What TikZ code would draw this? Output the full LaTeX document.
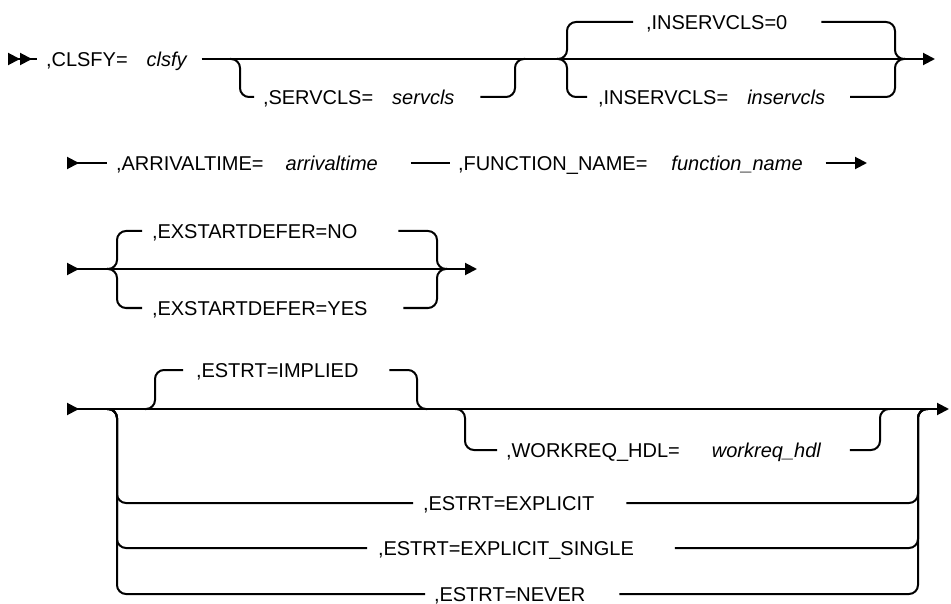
\documentclass[tikz,border=0pt]{standalone}
\usepackage{fontspec}
\setmainfont{Liberation Sans}
\usetikzlibrary{arrows.meta, positioning}

\tikzset{
  railtip/.tip={Triangle[length=12pt,width=12pt]},
  railstart/.tip={Triangle[reversed,length=12pt,width=12pt]}
}

\begin{document}
\begin{tikzpicture}[x=1pt, y=-1pt, line width=2pt,
    kw/.style={inner sep=0pt, text height=14.3pt, text depth=0pt,
               font=\fontsize{20}{24}\selectfont, anchor=west},
    var/.style={kw, font=\fontsize{20}{24}\selectfont\itshape},
    rail/.style={rounded corners=9pt}]
  \useasboundingbox (0,0) rectangle (951,604);

  % Row 1: CLSFY, SERVCLS, INSERVCLS
  \coordinate (start1) at (8,59);
  \coordinate (end1) at (935,59);
  \coordinate (servl) at (240,59);
  \coordinate (servr) at (515,59);
  \coordinate (insl) at (567,59);
  \coordinate (insr) at (895,59);
  \node[kw] (kwclsfy) at (45,59) {,CLSFY=};
  \node[var, right=17pt of kwclsfy] (varclsfy) {clsfy};
  \node[kw] (kwservcls) at (262,97) {,SERVCLS=};
  \node[var, right=17pt of kwservcls] (varservcls) {servcls};
  \node[kw] (kwinszero) at (645,22) {,INSERVCLS=0};
  \node[kw] (kwins) at (597,97) {,INSERVCLS=};
  \node[var, right=17pt of kwins] (varins) {inservcls};

  \draw[{Triangle[reversed,length=12pt,width=12pt] Triangle[reversed,length=12pt,width=12pt]}-]
    (start1) -- ([xshift=-8pt]kwclsfy.west);
  \draw[-railtip] ([xshift=14pt]varclsfy.east) -- (end1);
  \draw[rail] ([xshift=-10pt]servl) -| (servl |- kwservcls.west) -- ([xshift=-8pt]kwservcls.west);
  \draw[rail] ([xshift=25pt]varservcls.east) -| (servr) -- ([xshift=10pt]servr);
  \draw[rail] ([xshift=-10pt]insl) -| (insl |- kwinszero.west) -- ([xshift=-12pt]kwinszero.west);
  \draw[rail] ([xshift=33pt]kwinszero.east) -| (insr) -- ([xshift=10pt]insr);
  \draw[rail] ([xshift=-10pt]insl) -| (insl |- kwins.west) -- ([xshift=-10pt]kwins.west);
  \draw[rail] ([xshift=24pt]varins.east) -| (insr) -- ([xshift=10pt]insr);

  % Row 2: ARRIVALTIME, FUNCTION_NAME
  \coordinate (start2) at (67,163);
  \coordinate (end2) at (867,163);
  \node[kw] (kwarrival) at (115,163) {,ARRIVALTIME=};
  \node[var, right=20pt of kwarrival] (vararrival) {arrivaltime};
  \node[kw] (kwfunction) at (457,163) {,FUNCTION\_NAME=};
  \node[var, right=22pt of kwfunction] (varfunction) {function\_name};

  \draw[railstart-] (start2) -- ([xshift=-8pt]kwarrival.west);
  \draw ([xshift=32pt]vararrival.east) -- ([xshift=-7pt]kwfunction.west);
  \draw[-railtip] ([xshift=22pt]varfunction.east) -- (end2);

  % Row 3: EXSTARTDEFER
  \coordinate (start3) at (67,269);
  \coordinate (end3) at (477,269);
  \coordinate (deferl) at (117,269);
  \coordinate (deferr) at (437,269);
  \node[kw] (kwdeferno) at (151,231) {,EXSTARTDEFER=NO};
  \node[kw] (kwdeferyes) at (151,308) {,EXSTARTDEFER=YES};

  \draw[railstart-railtip] (start3) -- (end3);
  \draw[rail] ([xshift=-10pt]deferl) -| (deferl |- kwdeferno.west) -- ([xshift=-9pt]kwdeferno.west);
  \draw[rail] ([xshift=40pt]kwdeferno.east) -| (deferr) -- ([xshift=10pt]deferr);
  \draw[rail] ([xshift=-10pt]deferl) -| (deferl |- kwdeferyes.west) -- ([xshift=-9pt]kwdeferyes.west);
  \draw[rail] ([xshift=35pt]kwdeferyes.east) -| (deferr) -- ([xshift=10pt]deferr);

  % Row 4: ESTRT, WORKREQ_HDL
  \coordinate (start4) at (67,409);
  \coordinate (end4) at (949,409);
  \coordinate (estrtl) at (117,409);
  \coordinate (estrtr) at (918,409);
  \coordinate (impliedl) at (155,409);
  \coordinate (impliedr) at (417,409);
  \coordinate (workl) at (465,409);
  \coordinate (workr) at (880,409);
  \node[kw] (kwimplied) at (195,370) {,ESTRT=IMPLIED};
  \node[kw] (kwworkreq) at (505,450) {,WORKREQ\_HDL=};
  \node[var, right=30pt of kwworkreq] (varworkreq) {workreq\_hdl};
  \node[kw] (kwexplicit) at (422,503) {,ESTRT=EXPLICIT};
  \node[kw] (kwsingle) at (377,548) {,ESTRT=EXPLICIT\_SINGLE};
  \node[kw] (kwnever) at (433,594) {,ESTRT=NEVER};

  \draw[railstart-railtip] (start4) -- (end4);
  \draw[rail] ([xshift=-10pt]impliedl) -| (impliedl |- kwimplied.west) -- ([xshift=-12pt]kwimplied.west);
  \draw[rail] ([xshift=30pt]kwimplied.east) -| (impliedr) -- ([xshift=10pt]impliedr);
  \draw[rail] ([xshift=-10pt]workl) -| (workl |- kwworkreq.west) -- ([xshift=-8pt]kwworkreq.west);
  \draw[rail] ([xshift=28pt]varworkreq.east) -| (workr) -- ([xshift=10pt]workr);
  \foreach \alt/\gl/\gr in {kwexplicit/9pt/31pt, kwsingle/10pt/40pt, kwnever/8pt/33pt} {
    \draw[rail] ([xshift=-10pt]estrtl) -| (estrtl |- \alt.west) -- ([xshift=-\gl]\alt.west);
    \draw[rail] ([xshift=\gr]\alt.east) -| (estrtr) -- ([xshift=10pt]estrtr);
  }
\end{tikzpicture}
\end{document}
